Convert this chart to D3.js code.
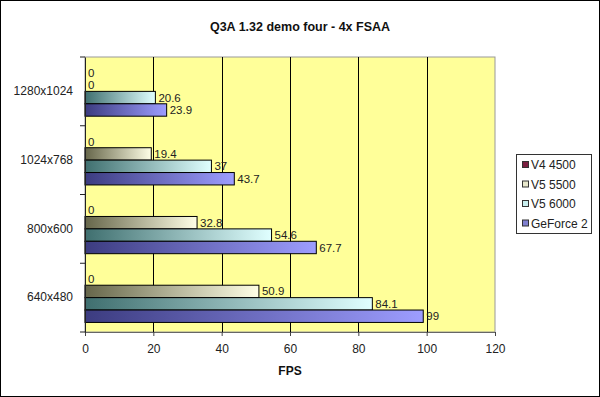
<!DOCTYPE html>
<html><head><meta charset="utf-8">
<script src="https://cdn.jsdelivr.net/npm/d3@7"></script>
<style>body{margin:0;background:#fff}svg{display:block;font-family:Arial,"Liberation Sans",sans-serif}</style>
</head><body>
<script>
const categories = ["1280x1024","1024x768","800x600","640x480"];
const seriesNames = ["V4 4500","V5 5500","V5 6000","GeForce 2"];
const v4_4500 = [0,0,0,0];
const v5_5500 = [0,19.4,32.8,50.9];
const v5_6000 = [20.6,37,54.6,84.1];
const geforce2 = [23.9,43.7,67.7,99];
const xTicks = [0,20,40,60,80,100,120];
const title = "Q3A 1.32 demo four - 4x FSAA";
const xTitle = "FPS";

const values = [v4_4500, v5_5500, v5_6000, geforce2];
const colorsDark = ["#7a1a3a","#66664a","#3f6f6f","#3c3c80"];
const colorsLight = ["#7a1a3a","#ffffe6","#e0ffff","#9d9dff"];
const legendColors = ["#7a1f3f","#e8e8cc","#c8eeee","#8080d0"];

const W=600,H=397;
const svg=d3.select("body").append("svg").attr("width",W).attr("height",H);
svg.append("rect").attr("x",0.5).attr("y",0.5).attr("width",W-1).attr("height",H-1).attr("fill","#fff").attr("stroke","#000");

const defs=svg.append("defs");
seriesNames.forEach((s,i)=>{
  const g=defs.append("linearGradient").attr("id","g"+i).attr("x1","0").attr("x2","1").attr("y1","0").attr("y2","0");
  g.append("stop").attr("offset","0").attr("stop-color",colorsDark[i]);
  g.append("stop").attr("offset","1").attr("stop-color",colorsLight[i]);
});

const L=85,R=495,T=57,B=332;
const x=d3.scaleLinear().domain([0,120]).range([L,R]);
const y=d3.scaleBand().domain(categories).range([T,B]).padding(0);
const ys=d3.scaleBand().domain(seriesNames).range([0,y.bandwidth()]).paddingInner(0).paddingOuter(0.77);

svg.append("rect").attr("x",L).attr("y",T).attr("width",R-L).attr("height",B-T).attr("fill","#ffff99").attr("stroke","#999").attr("stroke-width",1);

// gridlines
svg.append("g").selectAll("line").data(xTicks.filter(d=>d>0&&d<120)).join("line")
  .attr("x1",d=>Math.round(x(d))+0.5).attr("x2",d=>Math.round(x(d))+0.5).attr("y1",T).attr("y2",B)
  .attr("stroke","#000").attr("stroke-width",1);

// bars
categories.forEach((c,ci)=>{
  seriesNames.forEach((s,si)=>{
    const v=values[si][ci];
    const y0=y(c)+ys(s);
    if(v>0){
      svg.append("rect").attr("x",x(0)).attr("y",y0).attr("width",x(v)-x(0)).attr("height",ys.bandwidth())
        .attr("fill","url(#g"+si+")").attr("stroke","#000").attr("stroke-width",1);
    }
    svg.append("text").attr("x",x(v)+3).attr("y",y0+ys.bandwidth()/2).attr("dy","0.35em")
      .attr("font-size",11.5).attr("fill","#222").text(v);
  });
});

// axes
const xa=svg.append("g").attr("transform",`translate(0,${B})`).call(d3.axisBottom(x).tickValues(xTicks).tickSize(4).tickPadding(8));
xa.select(".domain").attr("stroke","#666");
xa.selectAll(".tick line").attr("stroke","#444");
xa.selectAll("text").attr("font-size",12).attr("fill","#222").attr("font-family","Arial,'Liberation Sans',sans-serif");

const ya=svg.append("g").attr("transform",`translate(${L},0)`).call(d3.axisLeft(y).tickSize(0).tickPadding(12));
ya.select(".domain").attr("stroke","#222");
ya.selectAll("text").attr("font-size",12).attr("fill","#222").attr("font-family","Arial,'Liberation Sans',sans-serif");
// band boundary ticks
svg.append("g").selectAll("line").data(categories.slice(1).concat(["__end"])).join("line")
  .attr("x1",L-5).attr("x2",L).attr("y1",d=>d==="__end"?B:y(d)).attr("y2",d=>d==="__end"?B:y(d))
  .attr("stroke","#222");
svg.append("line").attr("x1",L-5).attr("x2",L).attr("y1",T).attr("y2",T).attr("stroke","#222");

svg.append("text").attr("x",300).attr("y",31).attr("text-anchor","middle").attr("font-weight","bold").attr("font-size",12.5).attr("fill","#111").text(title);
svg.append("text").attr("x",290).attr("y",375).attr("text-anchor","middle").attr("font-weight","bold").attr("font-size",12).attr("fill","#111").text(xTitle);

// legend
const lg=svg.append("g");
lg.append("rect").attr("x",516.5).attr("y",154.5).attr("width",75).attr("height",79).attr("fill","#fff").attr("stroke","#333");
seriesNames.forEach((s,i)=>{
  const yy=165+i*19.5;
  lg.append("rect").attr("x",522.5).attr("y",yy-3.5).attr("width",6).attr("height",6).attr("fill",legendColors[i]).attr("stroke","#333");
  lg.append("text").attr("x",531).attr("y",yy).attr("dy","0.36em").attr("font-size",12).attr("fill","#222").text(s);
});
</script>
</body></html>
